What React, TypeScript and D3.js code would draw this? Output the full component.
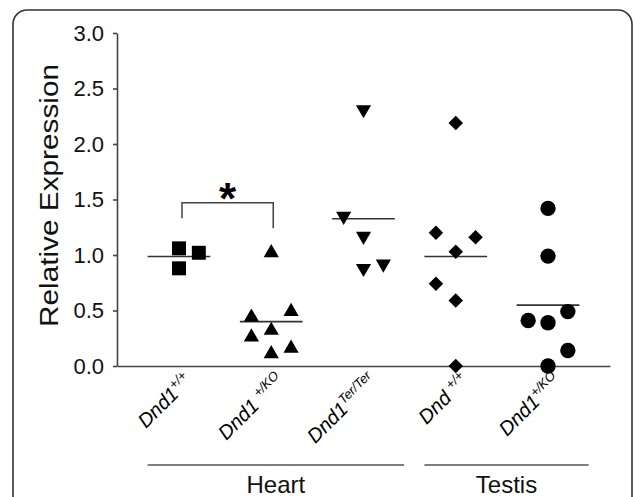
import React, { useEffect, useRef } from "react";
import * as d3 from "d3";

// genotypes along the x axis
const categories = ["wtHeart", "hetHeart", "terHeart", "wtTestis", "hetTestis"];
const labelMain = ["Dnd1", "Dnd1 ", "Dnd1", "Dnd ", "Dnd1"];
const labelSup = ["+/+", "+/KO", "Ter/Ter", "+/+", "+/KO"];

// relative expression per animal, with its jitter column (-1, 0, 1)
const wtHeart = [1.06, 1.02, 0.88];
const wtHeartCol = [0, 1, 0];
const hetHeart = [1.02, 0.44, 0.49, 0.32, 0.26, 0.11, 0.16];
const hetHeartCol = [0, -1, 1, 0, -1, 0, 1];
const terHeart = [2.31, 1.35, 1.17, 0.88, 0.92];
const terHeartCol = [0, -1, 0, 0, 1];
const wtTestis = [2.19, 1.2, 1.16, 1.03, 0.74, 0.59, 0.0];
const wtTestisCol = [0, -1, 1, 0, -1, 0, 0];
const hetTestis = [1.42, 0.99, 0.41, 0.39, 0.49, 0.14, 0.0];
const hetTestisCol = [0, 0, -1, 0, 1, 1, 0];

const yTicks = [0, 0.5, 1.0, 1.5, 2.0, 2.5, 3.0];

// tissue groups under the labels
const tissues = ["Heart", "Testis"];
const tissueFirst = [0, 3];
const tissueLast = [2, 4];

// significance bracket between Dnd1+/+ and Dnd1+/KO heart
const sigFrom = 0;
const sigTo = 1;
const sigTop = 1.47;
const sigLeftEnd = 1.33;
const sigRightEnd = 1.24;

const FONT = "'Liberation Sans', Arial, Helvetica, sans-serif";

const App = () => {
  const svgRef = useRef<SVGSVGElement>(null);

  useEffect(() => {
    const width = 633;
    const height = 497;
    const margin = { top: 33, left: 117, right: 23, bottom: 131 };

    const svg = d3.select(svgRef.current);
    svg.selectAll("*").remove();

    const table = [
      { key: categories[0], values: wtHeart, cols: wtHeartCol, shape: d3.symbolSquare, size: 195, rot: 0 },
      { key: categories[1], values: hetHeart, cols: hetHeartCol, shape: d3.symbolTriangle, size: 100, rot: 0 },
      { key: categories[2], values: terHeart, cols: terHeartCol, shape: d3.symbolTriangle, size: 100, rot: 180 },
      { key: categories[3], values: wtTestis, cols: wtTestisCol, shape: d3.symbolSquare, size: 105, rot: 45 },
      { key: categories[4], values: hetTestis, cols: hetTestisCol, shape: d3.symbolCircle, size: 185, rot: 0 },
    ];

    const x = d3
      .scalePoint()
      .domain(categories)
      .range([margin.left, width - margin.right])
      .padding(0.672);

    const y = d3
      .scaleLinear()
      .domain([0, 3])
      .range([height - margin.bottom, margin.top]);

    const step = x.step();
    const jitter = step * 0.215;

    // frame
    svg
      .append("rect")
      .attr("x", 13)
      .attr("y", 10)
      .attr("width", 619)
      .attr("height", 530)
      .attr("rx", 14)
      .attr("fill", "none")
      .attr("stroke", "#333")
      .attr("stroke-width", 1.6);

    // y axis
    const yAxisG = svg
      .append("g")
      .attr("transform", `translate(${margin.left},0)`)
      .call(
        d3
          .axisLeft(y)
          .tickValues(yTicks)
          .tickSize(4)
          .tickSizeOuter(0)
          .tickPadding(9)
          .tickFormat(d3.format(".1f"))
      );
    yAxisG.selectAll("path, line").attr("stroke", "#444").attr("stroke-width", 1.6);
    yAxisG
      .selectAll("text")
      .attr("fill", "#111")
      .style("font-family", FONT)
      .style("font-size", "22px");

    // x axis
    const xAxisG = svg
      .append("g")
      .attr("transform", `translate(0,${y(0)})`)
      .call(d3.axisBottom(x).tickSize(0).tickSizeOuter(0).tickFormat(() => ""));
    xAxisG.select("path").attr("stroke", "#444").attr("stroke-width", 1.6);

    // y axis title
    svg
      .append("text")
      .attr("transform", `translate(58,${(y(0) + y(3)) / 2 - 4}) rotate(-90)`)
      .attr("text-anchor", "middle")
      .attr("textLength", 263)
      .attr("lengthAdjust", "spacingAndGlyphs")
      .attr("fill", "#111")
      .style("font-family", FONT)
      .style("font-size", "25px")
      .text("Relative Expression");

    // mean lines
    svg
      .append("g")
      .selectAll("line")
      .data(table)
      .enter()
      .append("line")
      .attr("x1", (d) => x(d.key)! - step * 0.34)
      .attr("x2", (d) => x(d.key)! + step * 0.34)
      .attr("y1", (d) => y(d3.mean(d.values)!))
      .attr("y2", (d) => y(d3.mean(d.values)!))
      .attr("stroke", "#333")
      .attr("stroke-width", 1.6);

    // points
    table.forEach((g) => {
      const sym = d3.symbol().type(g.shape).size(g.size);
      svg
        .append("g")
        .selectAll("path")
        .data(g.values.map((v, i) => ({ v, c: g.cols[i] })))
        .enter()
        .append("path")
        .attr("d", sym)
        .attr(
          "transform",
          (d) => `translate(${x(g.key)! + d.c * jitter},${y(d.v)}) rotate(${g.rot})`
        )
        .attr("fill", "#000");
    });

    // significance bracket
    const bx1 = x(categories[sigFrom])! + 3;
    const bx2 = x(categories[sigTo])! + 2;
    svg
      .append("path")
      .attr(
        "d",
        `M${bx1},${y(sigLeftEnd)}V${y(sigTop)}H${bx2}V${y(sigRightEnd)}`
      )
      .attr("fill", "none")
      .attr("stroke", "#444")
      .attr("stroke-width", 1.5);
    svg
      .append("text")
      .attr("x", (bx1 + bx2) / 2)
      .attr("y", y(sigTop) + 11)
      .attr("text-anchor", "middle")
      .attr("fill", "#000")
      .style("font-family", FONT)
      .style("font-weight", "bold")
      .style("font-size", "44px")
      .text("*");

    // genotype labels
    categories.forEach((c, i) => {
      const t = svg
        .append("text")
        .attr("transform", `translate(${x(c)! + 14},${y(0) + 16}) rotate(-45)`)
        .attr("text-anchor", "end")
        .attr("fill", "#000")
        .style("font-family", FONT)
        .style("font-style", "italic")
        .style("font-size", "20px");
      t.append("tspan").style("white-space", "pre").text(labelMain[i]);
      t.append("tspan")
        .attr("dy", -8)
        .style("font-size", "13px")
        .text(labelSup[i]);
    });

    // tissue groups
    tissues.forEach((name, i) => {
      const x1 = x(categories[tissueFirst[i]])! - step * 0.34;
      const x2 = x(categories[tissueLast[i]])! + step * 0.44;
      svg
        .append("line")
        .attr("x1", x1)
        .attr("x2", x2)
        .attr("y1", 465)
        .attr("y2", 465)
        .attr("stroke", "#555")
        .attr("stroke-width", 1.6);
      svg
        .append("text")
        .attr("x", (x1 + x2) / 2)
        .attr("y", 493)
        .attr("text-anchor", "middle")
        .attr("fill", "#111")
        .style("font-family", FONT)
        .style("font-size", "24px")
        .text(name);
    });
  }, []);

  return (
    <svg
      ref={svgRef}
      width={633}
      height={497}
      style={{ position: "absolute", left: 0, top: 0, background: "#fff" }}
    />
  );
};

export default App;
